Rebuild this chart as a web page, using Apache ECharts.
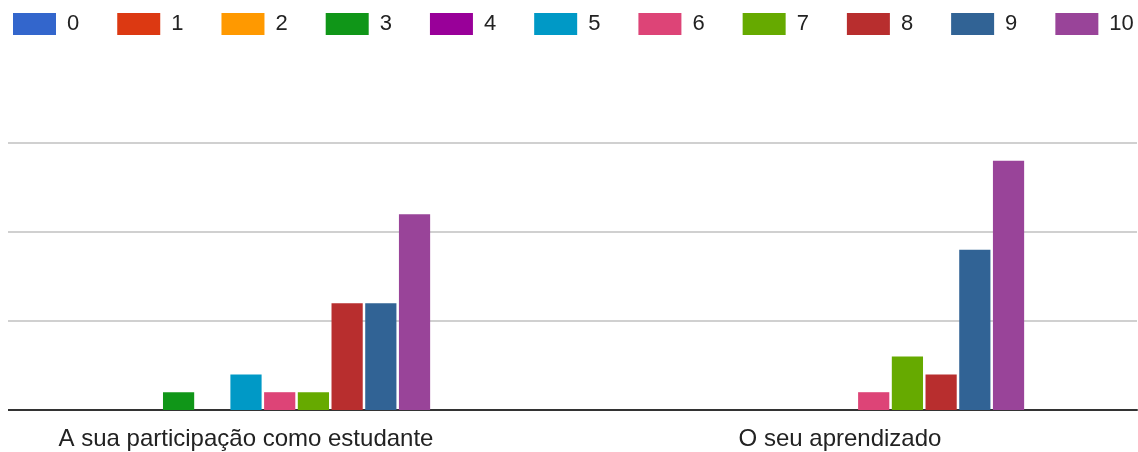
<!DOCTYPE html>
<html>
<head>
<meta charset="utf-8">
<script src="https://cdn.jsdelivr.net/npm/echarts@6/dist/echarts.min.js"></script>
<style>
html,body{margin:0;padding:0;background:#fff;overflow:hidden;}
#chart{width:1189px;height:452px;margin-left:-51px;}
</style>
</head>
<body>
<div id="chart"></div>
<script>
const categories = ["A sua participação como estudante", "O seu aprendizado"];
const seriesNames = ["0","1","2","3","4","5","6","7","8","9","10"];
const s0 = [0, 0];
const s1 = [0, 0];
const s2 = [0, 0];
const s3 = [1, 0];
const s4 = [0, 0];
const s5 = [2, 0];
const s6 = [1, 1];
const s7 = [1, 3];
const s8 = [6, 2];
const s9 = [6, 9];
const s10 = [11, 14];
const seriesValues = [s0,s1,s2,s3,s4,s5,s6,s7,s8,s9,s10];
const colors = ["#3366cc","#dc3912","#ff9900","#109618","#990099","#0099c6","#dd4477","#66aa00","#b82e2e","#316395","#994499"];
const OFFSET = 51;

const chart = echarts.init(document.getElementById('chart'), null, {renderer:'canvas'});
chart.setOption({
  animation: false,
  color: colors,
  legend: {
    left: 13 + OFFSET, top: 13, padding: 0,
    itemWidth: 43, itemHeight: 22, itemGap: 38,
    icon: 'rect',
    data: seriesNames,
    textStyle: { fontFamily: 'Liberation Sans, Arial', fontSize: 22, color: '#222', padding: [0,0,0,6] }
  },
  grid: { left: 0, right: 1, top: 143, bottom: 42 },
  xAxis: {
    type: 'category',
    data: categories,
    axisLine: { lineStyle: { color: '#333', width: 2 } },
    axisTick: { show: false },
    axisLabel: { fontFamily: 'Liberation Sans, Arial', fontSize: 24, color: '#222', margin: 17 }
  },
  yAxis: {
    type: 'value', min: 0, max: 15, interval: 5,
    axisLabel: { show: false },
    axisLine: { show: false },
    axisTick: { show: false },
    splitLine: { lineStyle: { color: '#d0d0d0', width: 2 } }
  },
  graphic: [{
    type: 'rect', z: 100,
    shape: { x: 0, y: 130, width: OFFSET + 8, height: 290 },
    style: { fill: '#fff' }
  }],
  series: seriesNames.map((n, i) => ({
    name: n, type: 'bar', data: seriesValues[i],
    barGap: '8%', barCategoryGap: '38%',
    emphasis: { disabled: true }
  }))
});
</script>
</body>
</html>
